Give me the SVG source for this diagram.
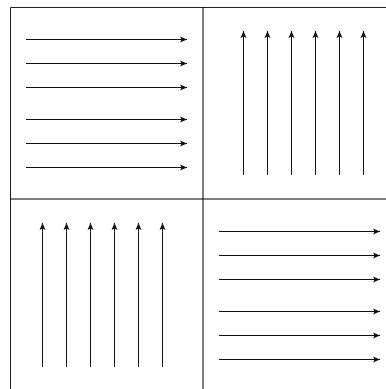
<svg xmlns="http://www.w3.org/2000/svg" width="386" height="389" viewBox="0 0 386 389">
<style>
.frame{stroke:#222;stroke-width:1;fill:none}
.div{stroke:#000;stroke-width:1;fill:none}
.arr{stroke:#111;stroke-width:1;fill:none;marker-end:url(#ah)}
</style>
<defs>
<marker id="ah" markerUnits="userSpaceOnUse" markerWidth="8" markerHeight="7" refX="7" refY="3.5" orient="auto">
<path d="M0,0.5 L7,3.5 L0,6.5 L1.5,3.5 z" fill="#111"/>
</marker>
</defs>
<rect width="386" height="389" fill="#fff"/>
<g id="frame">
<path class="frame" d="M10.5,389 V7.5 H386"/>
<path class="div" d="M203,7 V389"/>
<path class="div" d="M10,199 H386"/>
</g>
<g id="connectors">
<g id="q1">
<line class="arr" x1="26" y1="39.5" x2="187" y2="39.5"/>
<line class="arr" x1="26" y1="63.5" x2="187" y2="63.5"/>
<line class="arr" x1="26" y1="87.5" x2="187" y2="87.5"/>
<line class="arr" x1="26" y1="119.5" x2="187" y2="119.5"/>
<line class="arr" x1="26" y1="143.5" x2="187" y2="143.5"/>
<line class="arr" x1="26" y1="167.5" x2="187" y2="167.5"/>
</g>
<g id="q2">
<line class="arr" x1="243.5" y1="175" x2="243.5" y2="31"/>
<line class="arr" x1="267.5" y1="175" x2="267.5" y2="31"/>
<line class="arr" x1="291.5" y1="175" x2="291.5" y2="31"/>
<line class="arr" x1="315.5" y1="175" x2="315.5" y2="31"/>
<line class="arr" x1="339.5" y1="175" x2="339.5" y2="31"/>
<line class="arr" x1="363.5" y1="175" x2="363.5" y2="31"/>
</g>
<g id="q3">
<line class="arr" x1="42.5" y1="367" x2="42.5" y2="223"/>
<line class="arr" x1="66.5" y1="367" x2="66.5" y2="223"/>
<line class="arr" x1="90.5" y1="367" x2="90.5" y2="223"/>
<line class="arr" x1="114.5" y1="367" x2="114.5" y2="223"/>
<line class="arr" x1="138.5" y1="367" x2="138.5" y2="223"/>
<line class="arr" x1="162.5" y1="367" x2="162.5" y2="223"/>
</g>
<g id="q4">
<line class="arr" x1="219" y1="231.5" x2="380" y2="231.5"/>
<line class="arr" x1="219" y1="255.5" x2="380" y2="255.5"/>
<line class="arr" x1="219" y1="279.5" x2="380" y2="279.5"/>
<line class="arr" x1="219" y1="311.5" x2="380" y2="311.5"/>
<line class="arr" x1="219" y1="335.5" x2="380" y2="335.5"/>
<line class="arr" x1="219" y1="359.5" x2="380" y2="359.5"/>
</g>
</g>
</svg>
